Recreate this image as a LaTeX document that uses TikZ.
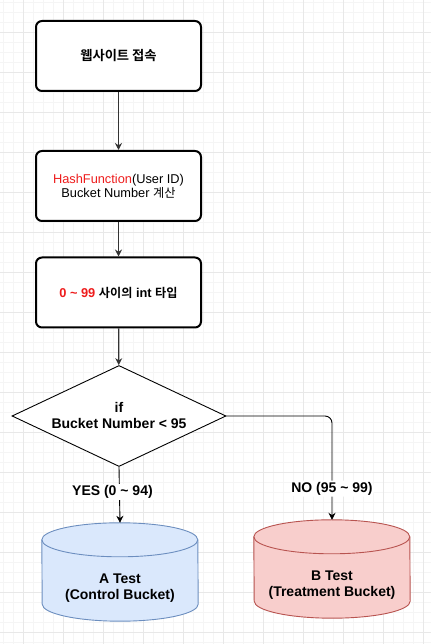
\documentclass[tikz,border=0pt]{standalone}
\usepackage{fontspec}
\setmainfont{Liberation Sans}
\newfontfamily\kr{Noto Sans CJK KR}[BoldFont={Noto Sans CJK KR Bold}, Scale=0.95]
\usetikzlibrary{positioning, shapes.geometric, arrows.meta, calc}
\definecolor{gridminor}{HTML}{F5F5F5}
\definecolor{gridmajor}{HTML}{E8E8E8}
\definecolor{hashred}{HTML}{EE1C1C}
\definecolor{linegray}{HTML}{333333}
\definecolor{afill}{HTML}{DAE8FC}
\definecolor{aline}{HTML}{6C8EBF}
\definecolor{bfill}{HTML}{F8CECC}
\definecolor{bline}{HTML}{B85450}
\tikzset{
  stepbox/.style={draw=black, line width=2pt, rounded corners=6pt, fill=white,
    minimum width=165pt, minimum height=70pt, align=center, inner sep=2pt},
  decision/.style={diamond, draw=black, line width=0.9pt, fill=white, aspect=2.12,
    minimum width=214pt, minimum height=101pt, inner sep=0pt, align=center},
  cylbox/.style={rectangle, minimum width=156pt, minimum height=98pt, inner sep=0pt},
  flow/.style={draw=linegray, line width=1.3pt, -{Stealth[length=7pt,width=7pt]}},
  branch/.style={draw=black, line width=0.9pt, -{Stealth[length=7pt,width=7pt]}},
  edgelabel/.style={fill=white, inner sep=1.5pt, font=\fontsize{14}{16}\selectfont\bfseries}
}
\begin{document}
\begin{tikzpicture}[x=1pt, y=1pt, font=\fontsize{14}{15}\selectfont]
    \useasboundingbox (0,0) rectangle (431,644);
    \fill[white] (0,0) rectangle (431,644);
    % grid
    \foreach \x in {3,13,...,423} \draw[gridminor, line width=0.8pt] (\x,0) -- (\x,644);
    \foreach \y in {2,12,...,642} \draw[gridminor, line width=0.8pt] (0,\y) -- (431,\y);
    \foreach \x in {23,63,...,423} \draw[gridmajor, line width=0.8pt] (\x,0) -- (\x,644);
    \foreach \y in {12,52,...,612} \draw[gridmajor, line width=0.8pt] (0,\y) -- (431,\y);

    % steps
    \node[stepbox] (visit) at (118.5,588) {{\kr\bfseries 웹사이트 접속}};
    \node[stepbox, font=\fontsize{12.8}{14}\selectfont] (hash) at (118.5,458)
          {{\color{hashred}HashFunction}(User ID)\\Bucket Number {\kr 계산}};
    \node[stepbox, font=\fontsize{12.8}{15}\selectfont\bfseries] (range) at (118.5,351.5)
          {{\color{hashred}0 \textasciitilde{} 99} {\kr 사이의} int {\kr 타입}};
    \node[decision, font=\fontsize{14}{16}\selectfont\bfseries] (check) at (119,228)
          {if\\Bucket Number < 95};

    % buckets
    \node[cylbox] (atest) at (120,72) {};
    \node[cylbox] (btest) at (332,75) {};
    \draw[fill=afill, draw=aline, line width=0.9pt]
          ($(atest.north west)+(0,-17)$) arc[start angle=180, end angle=0, x radius=78, y radius=17]
          -- ($(atest.south east)+(0,17)$) arc[start angle=0, end angle=-180, x radius=78, y radius=17]
          -- cycle;
    \draw[draw=aline, line width=0.9pt]
          ($(atest.north west)+(0,-17)$) arc[start angle=180, end angle=360, x radius=78, y radius=17];
    \draw[fill=bfill, draw=bline, line width=0.9pt]
          ($(btest.north west)+(0,-17)$) arc[start angle=180, end angle=0, x radius=78, y radius=17]
          -- ($(btest.south east)+(0,17)$) arc[start angle=0, end angle=-180, x radius=78, y radius=17]
          -- cycle;
    \draw[draw=bline, line width=0.9pt]
          ($(btest.north west)+(0,-17)$) arc[start angle=180, end angle=360, x radius=78, y radius=17];
    \node[align=center, font=\fontsize{14}{16}\selectfont\bfseries] (atext)
          at ($(atest.center)+(0,-16)$) {A Test\\(Control Bucket)};
    \node[align=center, font=\fontsize{14}{16}\selectfont\bfseries] (btext)
          at ($(btest.center)+(0,-16)$) {B Test\\(Treatment Bucket)};

    % connectors
    \draw[flow] (visit) -- (hash);
    \draw[flow] (hash) -- (range);
    \draw[flow] (range) -- (check);
    \draw[branch] (check.south) -- (atest.north)
          node[edgelabel, pos=0.45, xshift=-7pt] {YES (0 \textasciitilde{} 94)};
    \draw[branch, rounded corners=7pt] (check.east) -| (btest.north)
          node[edgelabel, pos=0.85] {NO (95 \textasciitilde{} 99)};
  \end{tikzpicture}
\end{document}
